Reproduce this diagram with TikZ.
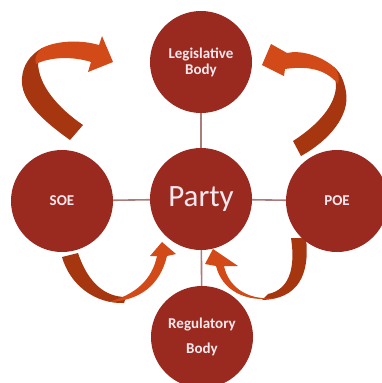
\documentclass[tikz,border=0pt]{standalone}
\usepackage{fontspec}
\setmainfont{Carlito}
\definecolor{circfill}{HTML}{9A2A1F}
\definecolor{txtcol}{HTML}{F8E8EE}
\definecolor{darkarr}{HTML}{A5360F}
\definecolor{lightarr}{HTML}{D24A18}
\definecolor{linkcol}{HTML}{A87C78}
\begin{document}
\begin{tikzpicture}[x=1pt,y=-1pt,
  bubble/.style={circle,fill=circfill,draw=none,minimum size=102pt,inner sep=0pt,text=txtcol,align=center},
  small/.style={font=\fontsize{15}{18}\selectfont\bfseries},
  link/.style={draw=linkcol,line width=1.6pt},
  darkpart/.style={fill=darkarr,draw=none},
  lightpart/.style={fill=lightarr,draw=none}]
\useasboundingbox[fill=white] (0,0) rectangle (382,383);
% links
\coordinate (legc) at (201,62);
\coordinate (partyc) at (201,199);
\coordinate (soec) at (62,201);
\coordinate (poec) at (337,201);
\coordinate (regc) at (202,337);
\draw[link] (legc) -- (partyc);
\draw[link] (soec) -- (partyc);
\draw[link] (poec) -- (partyc);
\draw[link] (regc) -- (partyc);
% curved block arrows
% top-left
\path[darkpart] (70,140) .. controls (42,120) and (20,100) .. (22,78) .. controls (23,65) and (30,55) .. (42,48) -- (38,62) .. controls (38,85) and (58,108) .. (83,125) -- cycle;
\path[lightpart] (42,48) .. controls (58,40) and (82,40) .. (99,45) -- (102,36) -- (113,62) -- (88,72) -- (91,62) .. controls (72,56) and (50,57) .. (36,64) .. controls (34,58) and (37,52) .. (42,48) -- cycle;
% top-right
\path[darkpart] (301,156) .. controls (330,140) and (350,115) .. (346,92) .. controls (344,80) and (340,72) .. (334,67) -- (336,85) .. controls (336,105) and (318,125) .. (293,141) -- cycle;
\path[lightpart] (334,67) .. controls (320,55) and (300,50) .. (287,53) -- (271,44) -- (262,65) -- (284,76) -- (285,69) .. controls (305,66) and (325,68) .. (338,84) .. controls (340,78) and (338,71) .. (334,67) -- cycle;
% bottom-left
\path[darkpart] (62,257) .. controls (70,285) and (95,304) .. (124,303) -- (126,297) .. controls (105,297) and (88,283) .. (78,253) -- cycle;
\path[lightpart] (108,302) .. controls (140,301) and (160,285) .. (167,256) -- (176,254) -- (162,242) -- (150,256) -- (157,256) .. controls (152,280) and (135,295) .. (108,302) -- cycle;
% bottom-right
\path[darkpart] (306,238) .. controls (310,275) and (298,299) .. (262,300) -- (268,294) .. controls (288,290) and (296,270) .. (291,238) -- cycle;
\path[lightpart] (276,298) .. controls (245,301) and (228,285) .. (224,266) -- (238,266) -- (213,249) -- (205,264) -- (216,266) .. controls (222,290) and (245,303) .. (276,298) -- cycle;
% circles
\node[bubble,small] (leg) at (legc) {Legislative\\[-2pt]Body};
\node[bubble,font=\fontsize{31}{36}\selectfont] (party) at (partyc) {Party};
\node[bubble,small] (soe) at (soec) {SOE};
\node[bubble,small] (poe) at (poec) {POE};
\node[bubble,small] (reg) at (regc) {Regulatory\\[7pt]Body};
\end{tikzpicture}
\end{document}
